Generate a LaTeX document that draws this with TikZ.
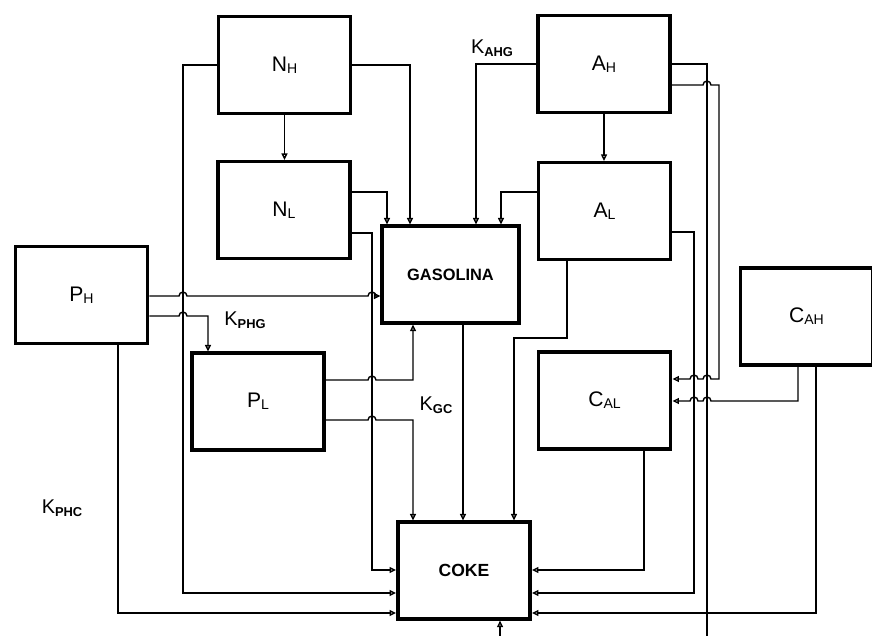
\documentclass[tikz,border=0pt]{standalone}
\usepackage{fontspec}
\setmainfont{Liberation Sans}
\usepackage{tikz}
\usetikzlibrary{
  arrows.meta,
  calc
}
\newcommand{\lsub}[1]{\raisebox{-1.5pt}{\fontsize{12}{12}\selectfont #1}}
\newcommand{\ksub}[1]{\raisebox{-3pt}{\fontsize{11}{11}\selectfont\bfseries #1}}
% line jumps: right-going and left-going
\newcommand{\hopr}[2]{-- ({#1-4},#2) arc[start angle=180, end angle=0, radius=3.4pt]}
\newcommand{\hopl}[2]{-- ({#1+4},#2) arc[start angle=0, end angle=180, radius=3.4pt]}
\tikzset{
  blk/.style = {
    draw,
    line width=3pt,
    minimum width=3.97cm,
    minimum height=2.9cm,
    font=\fontsize{18}{18}\selectfont
  },
  flow/.style = {
    line width=1.2pt,
    -{Triangle[open, length=5.5pt, width=5pt]}
  },
  klabel/.style = {font=\fontsize{17}{17}\selectfont}
}

\begin{document}
\begin{tikzpicture}[
    x=0.03cm,
    y=-0.03cm
]

    \useasboundingbox (0,0) rectangle (872,635);
    \clip (0,0) rectangle (872,635);

    % Lumps
    \foreach \nm/\xy/\txt in {
        nh/{284.5,65}/N\lsub{H},
        nl/{284,210}/N\lsub{L},
        ah/{604,64}/A\lsub{H},
        al/{604.5,211}/A\lsub{L},
        ph/{81.5,295}/P\lsub{H},
        pl/{258,401.5}/P\lsub{L},
        cal/{604.5,400.5}/C\lsub{AL},
        cah/{806.5,316.5}/C\lsub{AH},
        coke/{464,570.5}/{\bfseries\fontsize{15}{15}\selectfont COKE}
    } {
        \node[blk] (\nm) at (\xy) {\txt};
    }
    \node[blk, minimum width=4.1cm] (gas) at (450.5,274.5)
        {\bfseries\fontsize{14}{14}\selectfont GASOLINA};

    % Rate constants
    \node[klabel] (kahg) at (492,48) {K\ksub{AHG}};
    \node[klabel] (kphg) at (245,320) {K\ksub{PHG}};
    \node[klabel] (kgc) at (436,405) {K\ksub{GC}};
    \node[klabel] (kphc) at (62,508) {K\ksub{PHC}};

    % Heavy to light
    \draw[flow] (nh.south) -- (nh.south |- nl.north);
    \draw[flow] (ah.south) -- (ah.south |- al.north);
    \draw[flow] (ph.east |- 0,316) \hopr{183}{316} -| (pl.north -| 208,0);

    % Into gasolina
    \draw[flow] (nl.east |- 0,192) -| (gas.north -| 387,0);
    \draw[flow] (nh.east) -| (gas.north -| 410,0);
    \draw[flow] (ah.west) -| (gas.north -| 476,0);
    \draw[flow] (al.west |- 0,192) -| (gas.north -| 501,0);
    \draw[flow] (ph.east |- 0,296) \hopr{183}{296} \hopr{372}{296}
        -- (gas.west |- 0,296);
    \draw[flow] (pl.east |- 0,380) \hopr{372}{380} -| (gas.south -| 413,0);

    % Into coke, from above
    \draw[flow] (pl.east |- 0,420) \hopr{372}{420} -| (coke.north -| 413,0);
    \draw[flow] (gas.south -| 463,0) -- (coke.north -| 463,0);
    \draw[flow] (al.south -| 567,0) |- (514,338) -- (coke.north -| 514,0);

    % Into coke, from the left
    \draw[flow] (nl.east |- 0,233) -| (372,570) -- (coke.west |- 0,570);
    \draw[flow] (nh.west) -| (183,593) -- (coke.west |- 0,593);
    \draw[flow] (ph.south -| 118,0) |- (coke.west |- 0,613);

    % Into coke, from the right
    \draw[flow] (cal.south -| 644,0) |- (coke.east |- 0,570);
    \draw[flow] (al.east |- 0,232) -| (694,593) -- (coke.east |- 0,593);
    \draw[flow] (cah.south -| 816,0) |- (coke.east |- 0,613);
    \draw[flow] (ah.east) -| (707,650) -| (coke.south -| 500,0);

    % Into C_AL
    \draw[flow] (ah.east |- 0,85) \hopr{707}{85} -| (719,379)
        \hopl{707}{379} \hopl{694}{379} -- (cal.east |- 0,379);
    \draw[flow] (cah.south -| 798,0) |- (719,401)
        \hopl{707}{401} \hopl{694}{401} -- (cal.east |- 0,401);

\end{tikzpicture}
\end{document}
